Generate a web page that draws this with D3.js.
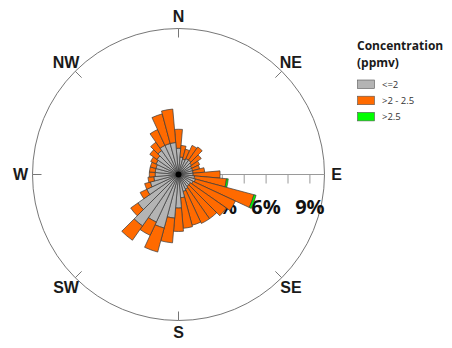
<!DOCTYPE html>
<html>
<head>
<meta charset="utf-8">
<script src="https://cdn.jsdelivr.net/npm/d3@7"></script>
<style>
  html, body { margin: 0; padding: 0; background: #fff; }
  svg { display: block; }
</style>
</head>
<body>
<svg id="chart" width="452" height="348"></svg>
<script>
// ---- data ----
const directions = [0,10,20,30,40,50,60,70,80,90,100,110,120,130,140,150,160,170,180,190,200,210,220,230,240,250,260,270,280,290,300,310,320,330,340,350];
// % of time in "<=2 ppmv"
const lowValues  = [1.8,1.2,1.1,1.2,1.2,1.1,1.0,1.0,1.0,1.0,1.1,1.2,1.1,1.0,1.0,1.1,1.2,1.6,2.3,3.0,3.8,3.6,4.3,3.4,2.4,2.0,1.7,1.6,1.6,1.6,1.7,1.8,2.0,2.2,2.2,2.2];
// % of time in ">2 - 2.5 ppmv"
const midValues  = [1.3,0.8,0.7,1.0,1.1,0.8,0.6,0.5,0.8,1.85,2.2,4.15,3.2,3.0,2.7,2.6,2.4,2.1,1.6,1.7,1.7,1.0,1.2,0.6,0.5,0.4,0.4,0.4,0.4,0.4,0.4,0.6,0.7,1.2,2.1,2.3];
// % of time in ">2.5 ppmv"
const highValues = [0,0,0,0,0,0,0,0,0,0,0.12,0.15,0,0,0,0,0,0,0,0,0,0,0,0,0,0,0,0,0,0,0,0,0,0,0,0];
const seriesNames = ["<=2", ">2 - 2.5", ">2.5"];
const seriesColors = ["#b4b4b4", "#ff6a00", "#00ff00"];
const compassLabels = ["N","NE","E","SE","S","SW","W","NW"];
const compassAngles = [0,45,90,135,180,225,270,315];
const radialTicks = [1.5,3,4.5,6,7.5,9];
const radialLabels = [3,6,9];
const legendTitle = ["Concentration", "(ppmv)"];

// ---- layout ----
const cx = 178.5, cy = 174.5, R = 146;
const svg = d3.select("#chart");
const g = svg.append("g").attr("transform", `translate(${cx},${cy})`);

const r = d3.scaleLinear().domain([0, 10]).range([0, R]);
const ang = d3.scaleLinear().domain([0, 360]).range([0, 2 * Math.PI]);
const binWidth = 10;

// outer circle
g.append("circle").attr("r", R).attr("fill", "none").attr("stroke", "#777").attr("stroke-width", 1);

// compass ticks
compassAngles.forEach(a => {
  const t = ang(a);
  const s = Math.sin(t), c = -Math.cos(t);
  g.append("line")
    .attr("x1", s * (R - 9)).attr("y1", c * (R - 9))
    .attr("x2", s * R).attr("y2", c * R)
    .attr("stroke", "#777").attr("stroke-width", 1);
});

// radial axis along E
g.append("line").attr("x1", 0).attr("y1", 0).attr("x2", R).attr("y2", 0)
  .attr("stroke", "#9a9a9a").attr("stroke-width", 1);
radialTicks.forEach(v => {
  g.append("line").attr("x1", r(v)).attr("x2", r(v)).attr("y1", 0).attr("y2", 9)
    .attr("stroke", "#9a9a9a").attr("stroke-width", 1);
});
radialLabels.forEach(v => {
  g.append("text").attr("x", r(v)).attr("y", 39)
    .attr("text-anchor", "middle")
    .attr("font-family", "'Open Sans', sans-serif").attr("font-weight", "bold")
    .attr("font-size", 20).attr("fill", "#111")
    .text(v + "%");
});

// compass labels
compassLabels.forEach((lab, i) => {
  const t = ang(compassAngles[i]);
  const rr = (compassAngles[i] % 90 === 0) ? 158 : 159;
  g.append("text")
    .attr("x", Math.sin(t) * rr)
    .attr("y", -Math.cos(t) * rr)
    .attr("dy", "0.36em")
    .attr("text-anchor", "middle")
    .attr("font-family", "'Liberation Sans', Arial, sans-serif").attr("font-weight", "bold")
    .attr("font-size", 16).attr("fill", "#1a1a1a")
    .text(lab);
});

// stacked bars
const arc = d3.arc();
directions.forEach((d, i) => {
  const vals = [lowValues[i], midValues[i], highValues[i]];
  let base = 0;
  vals.forEach((v, k) => {
    if (v <= 0) return;
    g.append("path")
      .attr("d", arc({
        innerRadius: r(base),
        outerRadius: r(base + v),
        startAngle: ang(d - binWidth / 2),
        endAngle: ang(d + binWidth / 2)
      }))
      .attr("fill", seriesColors[k])
      .attr("stroke", "#3a3a3a")
      .attr("stroke-width", 0.7);
    base += v;
  });
});
g.append("circle").attr("r", 3).attr("fill", "#000");

// legend
const lg = svg.append("g").attr("transform", "translate(357,0)");
legendTitle.forEach((t, i) => {
  lg.append("text").attr("x", 0).attr("y", 50 + i * 17)
    .attr("font-family", "'Open Sans', sans-serif").attr("font-weight", "bold")
    .attr("font-size", 12).attr("fill", "#1a1a1a").text(t);
});
seriesNames.forEach((n, i) => {
  lg.append("rect").attr("x", 0.5).attr("y", 80 + i * 16.2).attr("width", 17).attr("height", 8.5)
    .attr("fill", seriesColors[i]).attr("stroke", "#555").attr("stroke-width", 0.6);
  lg.append("text").attr("x", 25).attr("y", 88 + i * 16.2)
    .attr("font-family", "'Open Sans', sans-serif")
    .attr("font-size", 9.5).attr("fill", "#333").text(n);
});
</script>
</body>
</html>
